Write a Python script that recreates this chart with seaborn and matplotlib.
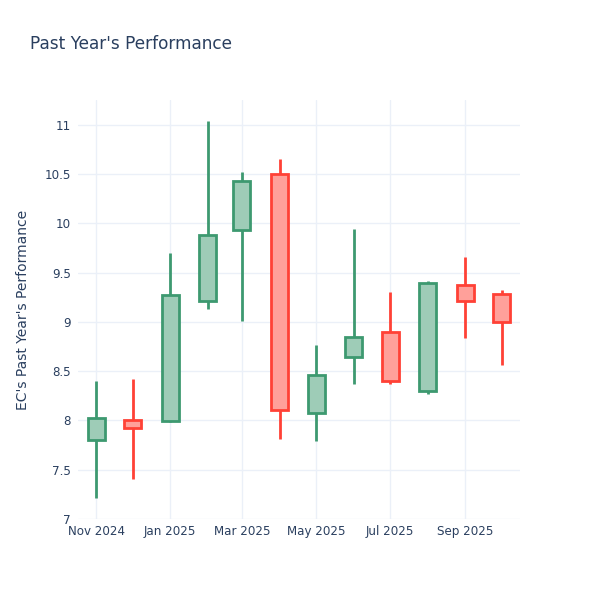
import pandas as pd
import matplotlib
matplotlib.use('Agg')
import matplotlib.pyplot as plt
import matplotlib.dates as mdates
import numpy as np
import seaborn as sns

sns.set_style('white')
plt.rcParams['font.family'] = ['DejaVu Sans']

# monthly candles, first of each month
months = pd.date_range('2024-11-01', '2025-10-01', freq='MS')
open_ = [7.80, 8.00, 7.99, 9.21, 9.93, 10.50, 8.08, 8.64, 8.90, 8.30, 9.37, 9.28]
close = [8.02, 7.92, 9.27, 9.88, 10.43, 8.11, 8.46, 8.845, 8.40, 9.39, 9.21, 9.00]
high = [8.40, 8.42, 9.70, 11.04, 10.52, 10.655, 8.76, 9.94, 9.30, 9.41, 9.66, 9.32]
low = [7.21, 7.41, 7.98, 9.13, 9.01, 7.81, 7.795, 8.37, 8.37, 8.27, 8.84, 8.56]

df = pd.DataFrame({'date': months, 'open': open_, 'close': close,
                   'high': high, 'low': low})
df['up'] = df['close'] >= df['open']
df['top'] = df[['open', 'close']].max(axis=1)
df['bot'] = df[['open', 'close']].min(axis=1)

inc_line, inc_fill = '#3D9970', '#9ECCB7'
dec_line, dec_fill = '#FF4136', '#FFA09A'
text_col = '#2a3f5f'

fig = plt.figure(figsize=(6, 6), dpi=100)
ax = fig.add_axes([0.13, 0.135, 0.7367, 0.6983])

for _, r in df.iterrows():
    lc = inc_line if r['up'] else dec_line
    fc = inc_fill if r['up'] else dec_fill
    ax.vlines(r['date'], r['top'], r['high'], color=lc, lw=2, zorder=3)
    ax.vlines(r['date'], r['low'], r['bot'], color=lc, lw=2, zorder=3)
    ax.bar(r['date'], r['top'] - r['bot'], bottom=r['bot'], width=14,
           color=fc, edgecolor=lc, linewidth=2, zorder=4)

ax.set_xlim(pd.Timestamp('2024-10-17'), pd.Timestamp('2025-10-16'))
ax.set_ylim(7, 11.25)
yt = np.arange(7, 11.01, 0.5)
ax.set_yticks(yt)
ax.set_yticklabels([f'{v:g}' for v in yt])
ax.xaxis.set_major_locator(mdates.MonthLocator(bymonth=[1, 3, 5, 7, 9, 11]))
ax.xaxis.set_major_formatter(mdates.DateFormatter('%b %Y'))

ax.grid(True, color='#EBF0F8', lw=1, zorder=0)
ax.set_axisbelow(True)
sns.despine(ax=ax, left=True, bottom=True, right=True, top=True)
ax.tick_params(axis='both', length=0, labelsize=8.6, labelcolor=text_col)
ax.tick_params(axis='y', pad=5)
ax.tick_params(axis='x', pad=4)

ax.set_ylabel("EC's Past Year's Performance", fontsize=10, color=text_col)
ax.yaxis.set_label_coords(-0.108, 0.5)
fig.text(0.05, 0.926, "Past Year's Performance", fontsize=12.2,
         color=text_col, va='center', ha='left')

plt.savefig('out.png', dpi=100)
